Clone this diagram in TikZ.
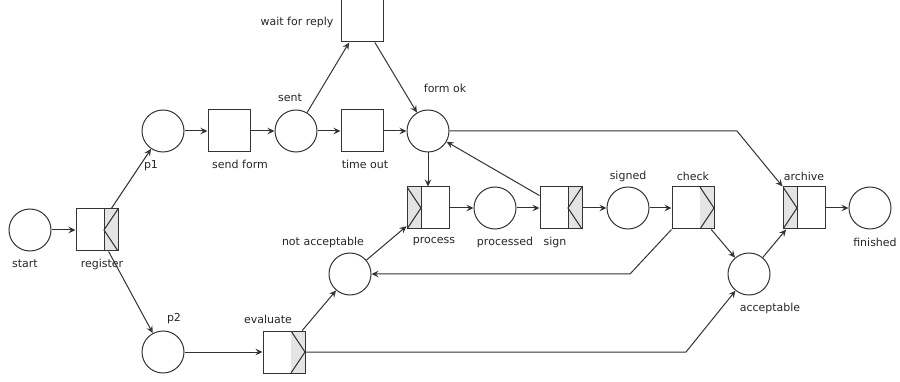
\documentclass[tikz,border=0pt]{standalone}
\usepackage{fontspec}
\setmainfont{DejaVu Sans}
\usetikzlibrary{arrows.meta}
\definecolor{linec}{HTML}{333333}
\definecolor{stripc}{HTML}{E4E4E4}
\begin{document}
\begin{tikzpicture}[x=1pt,y=-1pt,
  every node/.style={font=\fontsize{11}{13}\selectfont, text=black!85},
  place/.style={circle, draw=linec, line width=1pt, minimum size=42pt, inner sep=0pt},
  trans/.style={rectangle, draw=linec, line width=1pt, minimum size=42pt, inner sep=0pt},
  % strip on the right, chevron pointing left
  splitin/.style={trans, path picture={
    \fill[stripc] ([xshift=-14pt]path picture bounding box.north east) rectangle (path picture bounding box.south east);
    \draw[linec, line width=1pt] ([xshift=-14pt]path picture bounding box.north east) -- ([xshift=-14pt]path picture bounding box.south east);
    \draw[linec, line width=1pt] (path picture bounding box.north east) -- ([xshift=-14pt]path picture bounding box.east) -- (path picture bounding box.south east);
  }},
  % strip on the right, chevron pointing right
  splitout/.style={trans, path picture={
    \fill[stripc] ([xshift=-14pt]path picture bounding box.north east) rectangle (path picture bounding box.south east);
    \draw[linec, line width=1pt] ([xshift=-14pt]path picture bounding box.north east) -- (path picture bounding box.east) -- ([xshift=-14pt]path picture bounding box.south east);
  }},
  % strip on the left, chevron pointing right
  joinin/.style={trans, path picture={
    \fill[stripc] (path picture bounding box.north west) rectangle ([xshift=14pt]path picture bounding box.south west);
    \draw[linec, line width=1pt] (path picture bounding box.north west) -- ([xshift=14pt]path picture bounding box.west) -- (path picture bounding box.south west);
    \draw[linec, line width=1pt] ([xshift=14pt]path picture bounding box.north west) -- ([xshift=14pt]path picture bounding box.south west);
  }},
  arc/.style={draw=linec, line width=1pt, -{Stealth[length=7pt, width=6.5pt, open, inset=2.5pt]}},
  lbl/.style={inner sep=0pt, anchor=center}
]
\useasboundingbox (0,0) rectangle (900,382);

% places
\node[place] (start)     at (30,230) {};
\node[place] (p1)        at (163,131) {};
\node[place] (p2)        at (163,352) {};
\node[place] (sent)      at (296,131) {};
\node[place] (formok)    at (428,131) {};
\node[place] (processed) at (495,208) {};
\node[place] (signed)    at (628,208) {};
\node[place] (notacc)    at (350,274) {};
\node[place] (accept)    at (749,274) {};
\node[place] (finished)  at (870,208) {};

% transitions
\node[splitin]  (register) at (97,230) {};
\node[trans]    (sendform) at (229,131) {};
\node[trans]    (timeout)  at (362,131) {};
\node[trans]    (wait)     at (362,21) {};
\node[joinin]   (process)  at (428,208) {};
\node[splitin]  (sign)     at (561,208) {};
\node[splitout] (check)    at (693,208) {};
\node[joinin]   (archive)  at (804,208) {};
\node[splitout] (evaluate) at (284,352) {};

% labels
\node[lbl] (lstart)     at (25,264)  {start};
\node[lbl] (lregister)  at (102,264) {register};
\node[lbl] (lp1)        at (151,166) {p1};
\node[lbl] (lp2)        at (174,319) {p2};
\node[lbl] (lsendform)  at (240,164) {send form};
\node[lbl] (lsent)      at (290,98)  {sent};
\node[lbl] (ltimeout)   at (365,164) {time out};
\node[lbl] (lwait)      at (297,22)  {wait for reply};
\node[lbl] (lformok)    at (445,88)  {form ok};
\node[lbl] (lprocess)   at (434,242) {process};
\node[lbl] (lprocessed) at (505,242) {processed};
\node[lbl] (lsign)      at (555,242) {sign};
\node[lbl] (lsigned)    at (628,176) {signed};
\node[lbl] (lcheck)     at (693,176) {check};
\node[lbl] (larchive)   at (804,176) {archive};
\node[lbl] (lfinished)  at (875,242) {finished};
\node[lbl] (laccept)    at (770,308) {acceptable};
\node[lbl] (lnotacc)    at (323,242) {not acceptable};
\node[lbl] (levaluate)  at (268,319) {evaluate};

% bend points
\coordinate (bendA) at (737,131);
\coordinate (bendB) at (630,274);
\coordinate (bendC) at (686,352);

% arcs
\draw[arc] (start) -- (register);
\draw[arc] (register) -- (p1);
\draw[arc] (register) -- (p2);
\draw[arc] (p1) -- (sendform);
\draw[arc] (sendform) -- (sent);
\draw[arc] (sent) -- (timeout);
\draw[arc] (sent) -- (wait);
\draw[arc] (wait) -- (formok);
\draw[arc] (timeout) -- (formok);
\draw[arc] (formok) -- (process);
\draw[arc] (formok.east) -- (bendA) -- (archive.north west);
\draw[arc] (process) -- (processed);
\draw[arc] (processed) -- (sign);
\draw[arc] (sign) -- (formok);
\draw[arc] (sign) -- (signed);
\draw[arc] (signed) -- (check);
\draw[arc] (check.south west) -- (bendB) -- (notacc);
\draw[arc] (check) -- (accept);
\draw[arc] (accept) -- (archive);
\draw[arc] (archive) -- (finished);
\draw[arc] (p2) -- (evaluate);
\draw[arc] (evaluate) -- (notacc);
\draw[arc] (notacc) -- (process);
\draw[arc] (evaluate.east) -- (bendC) -- (accept);
\end{tikzpicture}
\end{document}
